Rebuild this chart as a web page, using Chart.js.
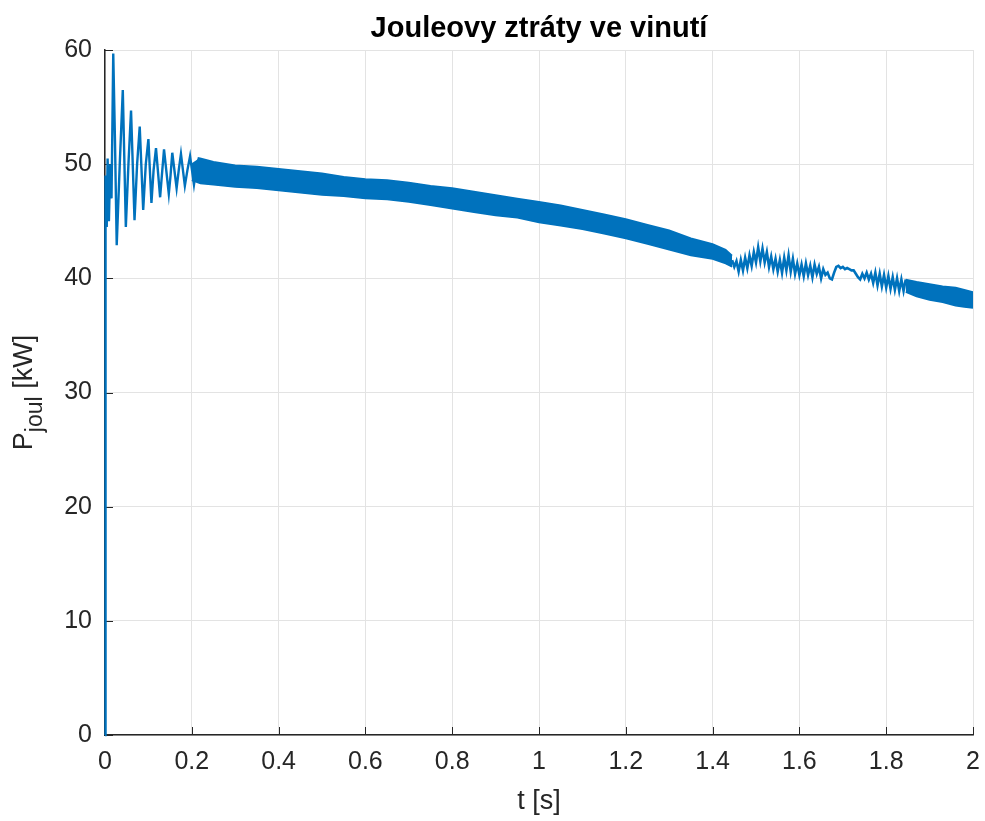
<!DOCTYPE html>
<html>
<head>
<meta charset="utf-8">
<script src="https://cdn.jsdelivr.net/npm/chart.js@4"></script>
<style>
  body { margin: 0; background: #fff; }
  canvas { display: block; }
</style>
</head>
<body>
<canvas id="jouleChart" width="985" height="821"></canvas>
<script>
// Jouleovy ztraty ve vinuti
const chartTitle = 'Jouleovy ztráty ve vinutí';
const xTicks = [0, 0.2, 0.4, 0.6, 0.8, 1, 1.2, 1.4, 1.6, 1.8, 2];
const yTicks = [0, 10, 20, 30, 40, 50, 60];

// start-up transient (t in s, P in kW)
const tStart = [0, 0.0005, 0.002, 0.004, 0.006, 0.009, 0.012, 0.015, 0.019, 0.023, 0.027, 0.034,
  0.041, 0.048, 0.054, 0.060, 0.068, 0.074, 0.080, 0.088, 0.094, 0.100, 0.107, 0.112, 0.1175,
  0.127, 0.131, 0.136, 0.147, 0.151, 0.155, 0.165, 0.170, 0.175, 0.184, 0.190, 0.196, 0.205,
  0.210, 0.2166];
const pStart = [0, 30, 49, 44.5, 50.5, 45, 50, 47, 59.7, 52, 42.9, 50,
  56.5, 44.5, 50, 54.7, 45.1, 50, 53.3, 46.0, 50, 52.2, 46.6, 49.5, 51.4,
  47.1, 49, 51.3, 47.4, 49, 51.0, 47.9, 49.5, 50.9, 48.1, 49.5, 50.7, 48.2,
  49.5, 50.6];

// ripple band, upper / lower edge
const tBand1 = [0.2, 0.22, 0.25, 0.3, 0.35, 0.4, 0.45, 0.5, 0.55, 0.6, 0.65, 0.7, 0.75, 0.8, 0.85,
  0.9, 0.95, 1.0, 1.05, 1.1, 1.15, 1.2, 1.25, 1.3, 1.35, 1.4, 1.43, 1.445];
const pUpper1 = [50.0, 50.5, 50.2, 49.9, 49.8, 49.6, 49.4, 49.2, 48.9, 48.7, 48.6, 48.4, 48.1, 47.9, 47.6,
  47.3, 47.0, 46.7, 46.4, 46.0, 45.6, 45.2, 44.7, 44.2, 43.5, 43.0, 42.5, 42.0];
const pLower1 = [48.6, 48.3, 48.2, 48.0, 47.9, 47.7, 47.5, 47.3, 47.2, 47.0, 46.9, 46.7, 46.4, 46.1, 45.8,
  45.5, 45.3, 44.9, 44.6, 44.3, 43.9, 43.5, 43.0, 42.5, 42.0, 41.7, 41.3, 41.0];

// visible oscillation after 1.44 s
const tOsc = [1.445, 1.450, 1.455, 1.460, 1.465, 1.470, 1.475, 1.480, 1.485, 1.490, 1.495, 1.500,
  1.505, 1.510, 1.515, 1.520, 1.525, 1.530, 1.535, 1.540, 1.545, 1.550, 1.555, 1.560, 1.565,
  1.570, 1.575, 1.580, 1.585, 1.590, 1.595, 1.600, 1.605, 1.610, 1.615, 1.620, 1.625, 1.630,
  1.635, 1.640, 1.645, 1.650, 1.655, 1.660, 1.665, 1.670, 1.675, 1.680, 1.685, 1.690, 1.695,
  1.700, 1.705, 1.710, 1.715, 1.720, 1.725, 1.730, 1.735, 1.740, 1.745, 1.750, 1.755, 1.760,
  1.765, 1.770, 1.775, 1.780, 1.785, 1.790, 1.795, 1.800, 1.805, 1.810, 1.815, 1.820, 1.825,
  1.830, 1.835, 1.840, 1.845];
const pOsc = [41.6, 41.0, 41.5, 40.6, 41.6, 40.7, 41.8, 40.9, 42.0, 41.1, 42.3, 41.4,
  42.7, 41.5, 42.6, 41.4, 42.3, 41.0, 41.9, 40.8, 41.7, 40.6, 41.6, 40.5, 41.8,
  40.7, 42.0, 40.6, 41.7, 40.4, 41.3, 40.3, 41.2, 40.2, 41.3, 40.3, 41.1, 40.1,
  41.2, 40.4, 41.0, 40.0, 40.8, 40.3, 40.5, 40.0, 39.9, 40.5, 41.0, 41.1, 40.9,
  41.0, 40.8, 40.9, 40.8, 40.7, 40.7, 40.4, 40.1, 39.9, 40.4, 40.0, 40.5, 39.9,
  40.4, 39.6, 40.5, 39.4, 40.4, 39.3, 40.3, 39.2, 40.2, 39.1, 40.1, 39.0, 40.0,
  38.9, 39.9, 38.9, 39.9];

const tBand2 = [1.845, 1.87, 1.9, 1.93, 1.96, 1.98, 2.0];
const pUpper2 = [39.9, 39.7, 39.5, 39.3, 39.2, 39.0, 38.8];
const pLower2 = [38.8, 38.4, 38.1, 37.9, 37.6, 37.5, 37.4];

const lineColor = '#0072BD';
const textColor = '#262626';
const fontFamily = '"Liberation Sans", Arial, Helvetica, sans-serif';

function toPoints(t, p) {
    return t.map((v, i) => ({ x: v, y: p[i] }));
}

function lineSet(t, p, extra = {}) {
    return Object.assign({
        data: toPoints(t, p),
        borderColor: lineColor,
        backgroundColor: lineColor,
        borderWidth: 1.6,
        pointRadius: 0,
        tension: 0,
        fill: false
    }, extra);
}

// MATLAB style: ticks inside, titles and subscript y label
const decorPlugin = {
    id: 'decor',
    beforeDatasetsDraw(chart) {
        const { ctx, chartArea, scales } = chart;
        ctx.save();
        ctx.strokeStyle = textColor;
        ctx.lineWidth = 1;
        xTicks.forEach(v => {
            const x = Math.round(scales.x.getPixelForValue(v)) + 0.5;
            ctx.beginPath();
            ctx.moveTo(x, chartArea.bottom);
            ctx.lineTo(x, chartArea.bottom - 8);
            ctx.stroke();
        });
        yTicks.forEach(v => {
            const y = Math.round(scales.y.getPixelForValue(v)) + 0.5;
            ctx.beginPath();
            ctx.moveTo(chartArea.left, y);
            ctx.lineTo(chartArea.left + 8, y);
            ctx.stroke();
        });
        ctx.restore();
    },
    afterDraw(chart) {
        const { ctx, chartArea } = chart;
        const cx = (chartArea.left + chartArea.right) / 2;
        const cy = (chartArea.top + chartArea.bottom) / 2;
        ctx.save();
        // title
        ctx.fillStyle = '#000';
        ctx.font = 'bold 29px ' + fontFamily;
        ctx.textAlign = 'center';
        ctx.textBaseline = 'alphabetic';
        ctx.fillText(chartTitle, cx, 37);
        // x label
        ctx.fillStyle = textColor;
        ctx.font = '27px ' + fontFamily;
        ctx.fillText('t [s]', cx, 809);
        // y label with subscript
        const mainFont = '27px ' + fontFamily;
        const subFont = '23px ' + fontFamily;
        ctx.font = mainFont;
        const wP = ctx.measureText('P').width;
        const wRest = ctx.measureText(' [kW]').width;
        ctx.font = subFont;
        const wSub = ctx.measureText('joul').width;
        const total = wP + wSub + wRest;
        ctx.translate(32, cy);
        ctx.rotate(-Math.PI / 2);
        ctx.textAlign = 'left';
        let x0 = -total / 2;
        ctx.font = mainFont;
        ctx.fillText('P', x0, 0);
        x0 += wP;
        ctx.font = subFont;
        ctx.fillText('joul', x0, 10);
        x0 += wSub;
        ctx.font = mainFont;
        ctx.fillText(' [kW]', x0, 0);
        ctx.restore();
    }
};

const ctx = document.getElementById('jouleChart').getContext('2d');

new Chart(ctx, {
    type: 'line',
    data: {
        datasets: [
            lineSet(tBand1, pUpper1),
            lineSet(tBand1, pLower1, { fill: '-1' }),
            lineSet(tBand2, pUpper2),
            lineSet(tBand2, pLower2, { fill: '-1' }),
            lineSet(tOsc, pOsc, { borderWidth: 2.6 }),
            lineSet(tStart, pStart, { borderWidth: 2.4, clip: false })
        ]
    },
    options: {
        responsive: false,
        animation: false,
        layout: {
            padding: { top: 50, right: 12, left: 0, bottom: 0 }
        },
        plugins: {
            legend: { display: false },
            title: { display: false },
            tooltip: { enabled: false }
        },
        scales: {
            x: {
                type: 'linear',
                min: 0,
                max: 2,
                afterFit(scale) {
                    scale.height = 86;
                    scale.paddingLeft = 0;
                    scale.paddingRight = 0;
                },
                afterBuildTicks(scale) { scale.ticks = xTicks.map(v => ({ value: v })); },
                ticks: {
                    color: textColor,
                    padding: 12,
                    maxRotation: 0,
                    font: { family: fontFamily, size: 25 },
                    callback: v => String(Number(v.toFixed(1)))
                },
                grid: { color: '#e3e3e3', lineWidth: 1, drawTicks: false },
                border: { color: textColor, width: 1.5 }
            },
            y: {
                type: 'linear',
                min: 0,
                max: 60,
                afterFit(scale) {
                    scale.width = 105;
                    scale.paddingTop = 0;
                    scale.paddingBottom = 0;
                },
                afterBuildTicks(scale) { scale.ticks = yTicks.map(v => ({ value: v })); },
                ticks: {
                    color: textColor,
                    padding: 13,
                    font: { family: fontFamily, size: 25 },
                    callback: v => String(v)
                },
                grid: { color: '#e3e3e3', lineWidth: 1, drawTicks: false },
                border: { color: textColor, width: 1.5 }
            }
        }
    },
    plugins: [decorPlugin]
});
</script>
</body>
</html>
